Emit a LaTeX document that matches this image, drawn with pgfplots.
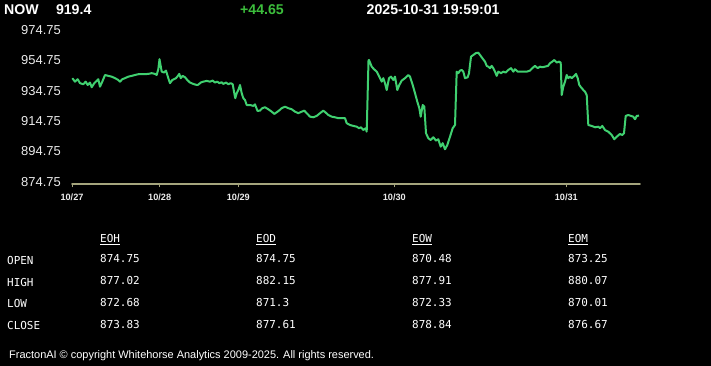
\documentclass[border=0pt]{standalone}
\usepackage{pgfplots}
\pgfplotsset{compat=1.18}
\usepackage{pgfplotstable}
\usepackage{fontspec}
\setmainfont{Liberation Sans}
\newfontfamily\monof{DejaVu Sans Mono}
\definecolor{linec}{RGB}{64,208,112}
\definecolor{grn}{RGB}{60,190,60}
\definecolor{axc}{RGB}{165,165,125}
\definecolor{lbl}{RGB}{235,235,235}
\pgfplotstableread{
x y
72.3 944.1
75 941.8
77.7 943.4
80 940.8
83.3 940.1
85.7 941.8
87.7 939.6
90 941.2
91.7 938.1
94.3 940.8
96.7 942.3
98.3 943.4
100 938.5
102.3 941.8
105 946.2
108.3 945.6
111.7 945.1
115 944.1
118.3 942.9
120 941.8
122.3 943.4
125 944.1
128.3 945.1
131.7 945.6
135 946.2
138.3 946.7
143.3 946.7
148.3 946.9
151.7 947.4
155 946.9
156.7 946.2
158.3 950.0
159.5 956.6
161.7 948.4
164 947.8
166 949.1
168.3 944.1
170 940.8
172.3 942.9
174 943.4
176 944.1
177.3 945.1
179.3 946.9
180.7 944.1
182.7 945.6
185 944.7
187.3 942.9
190 941.2
193.3 940.3
196.7 939.6
198.3 939.8
200.7 941.2
203.3 941.8
206.7 942.3
210 941.8
212.7 942.5
215 941.2
217.3 941.8
219.3 940.8
221.7 941.4
223.3 940.3
226 941.2
228.3 940.1
230.7 940.8
232.7 940.1
234 935.2
235.3 930.9
236.7 934.2
238.3 936.3
240 939.6
241.7 934.2
243.3 930.9
245 929.7
246.7 926.4
250 926.4
253.3 925.8
255 926.8
257.5 922.5
260 922.7
262.3 924.3
265 924.9
268.3 923.6
271.7 922.0
274.3 920.5
276.7 921.6
279 922.7
281.7 924.3
285 925.3
288.3 924.3
291.7 923.6
295 922.0
298.3 921.0
301.7 922.0
304.3 922.7
306.7 921.0
310 918.7
313.3 918.3
316.7 919.2
320 921.0
323.3 922.7
325.7 921.4
328.3 919.8
331.7 918.7
335 918.3
338.3 917.7
341.7 917.7
345 917.7
346.7 914.4
350 913.2
353.3 912.6
356.7 912.1
359 911.1
361 911.7
363.3 909.9
365.7 911.1
366.7 908.8
368.5 955.7
369 956.1
371.7 951.7
374 950.0
376.7 948.4
379.3 945.1
381.7 941.8
383.3 944.1
385 940.8
386.7 936.3
389 944.1
391 945.1
393.3 942.9
395 945.1
397.3 936.3
399.3 939.6
401.7 942.5
405 944.1
408.3 946.2
410 945.1
412.7 939.6
415 934.2
417.3 928.6
419.3 924.3
420.7 918.7
422.7 926.4
424.3 925.3
426 907.8
428.3 904.5
430.7 903.3
433.3 905.1
436 902.9
438.3 903.8
440.7 898.9
442.7 901.2
445 897.2
447.3 900.0
450 905.5
452.7 911.1
455 913.2
456.7 948.4
458.3 947.4
460 949.1
461.7 949.5
463.3 948.4
465 944.1
467.7 944.7
469 947.4
471 958.3
473.3 959.4
475.7 960.6
478.3 960.9
480 959.4
482.3 957.3
485 955.0
486.7 952.2
488.3 951.7
490 950.7
491.7 952.2
493.3 950.7
495 948.4
496.7 945.6
498.3 948.4
501 947.4
503.3 948.4
505.7 947.8
508.3 949.5
511 950.7
513.3 948.4
515 950.0
517.7 948.4
521.7 948.4
526.7 948.4
530 949.1
532.3 950.7
535 952.2
537.7 950.7
540 951.7
542.3 951.3
545 951.7
548 952.2
550 954.0
552.3 955.0
554.3 956.1
556.7 954.4
559 955.0
560.7 954.4
561.7 933.0
563.3 938.5
565 941.8
566.7 946.2
568.3 944.1
570 945.1
571.7 944.1
574.3 945.6
576 946.9
577.7 944.1
579.3 939.6
581 938.1
583.3 936.3
585 935.2
586.7 933.0
588.3 913.2
591.7 912.6
595 911.7
598.3 912.1
600 911.1
602.3 912.6
605 909.9
608.3 908.8
611.7 906.6
614.3 903.8
616.7 905.5
620 907.3
622.3 906.6
624 907.8
625.7 919.2
628.3 919.8
631 919.2
633.3 918.7
635 917.0
636.7 919.2
639 919.4
}\pricedata
\begin{document}
\begin{tikzpicture}
\fill[black] (0,0) rectangle (711bp,-366bp);
\begin{axis}[
  at={(72bp,-183.3bp)}, anchor=south west,
  scale only axis, width=568bp, height=151.6bp,
  xmin=72, xmax=640, ymin=874.75, ymax=974.75,
  clip=false,
  axis line style={draw=none},
  xtick pos=bottom, ytick pos=left, tick align=outside,
  major tick length=4bp,
  xtick style={draw=axc, line width=0.8bp},
  ytick style={draw=none},
  xtick={72,159.7,238.3,394.3,566.3},
  xticklabels={10/27,10/28,10/29,10/30,10/31},
  ytick={874.75,894.75,914.75,934.75,954.75,974.75},
  yticklabels={874.75,894.75,914.75,934.75,954.75,974.75},
  yticklabel style={anchor=east, inner sep=0pt, xshift=-7bp, text=lbl, font=\fontsize{13}{14}\selectfont},
  xticklabel style={anchor=base, inner sep=0pt, yshift=-13.5bp, text=lbl, font=\fontsize{9.2}{10}\selectfont\bfseries},
  typeset ticklabels with strut=false,
]
\addplot[linec, line width=2bp, line join=round, no marks] table[x=x,y=y] {\pricedata};
\end{axis}
\draw[axc, line width=1.8bp, line cap=round] (72bp,-184.2bp) -- (640bp,-184.2bp);
% header
\begin{scope}[every node/.style={anchor=base west, inner sep=0pt, font=\fontsize{14.2}{16}\selectfont\bfseries}]
\node[text=white] at (4bp,-14bp) {NOW};
\node[text=white] at (55.8bp,-14bp) {919.4};
\node[text=grn] at (240bp,-14bp) {+44.65};
\node[text=white] at (366.5bp,-14bp) {2025-10-31 19:59:01};
\end{scope}
% table
\begin{scope}[every node/.style={anchor=base west, inner sep=0pt, text=white, font=\monof\fontsize{11}{13}\selectfont}]
\node at (100bp,-242.7bp) {\underline{EOH}};
\node at (256bp,-242.7bp) {\underline{EOD}};
\node at (412bp,-242.7bp) {\underline{EOW}};
\node at (568bp,-242.7bp) {\underline{EOM}};
\node at (7bp,-264.5bp) {OPEN};
\node at (7bp,-286bp) {HIGH};
\node at (7bp,-307.5bp) {LOW};
\node at (7bp,-329.5bp) {CLOSE};
\node at (100bp,-262.7bp) {874.75};
\node at (256bp,-262.7bp) {874.75};
\node at (412bp,-262.7bp) {870.48};
\node at (568bp,-262.7bp) {873.25};
\node at (100bp,-284.3bp) {877.02};
\node at (256bp,-284.3bp) {882.15};
\node at (412bp,-284.3bp) {877.91};
\node at (568bp,-284.3bp) {880.07};
\node at (100bp,-306bp) {872.68};
\node at (256bp,-306bp) {871.3};
\node at (412bp,-306bp) {872.33};
\node at (568bp,-306bp) {870.01};
\node at (100bp,-328.3bp) {873.83};
\node at (256bp,-328.3bp) {877.61};
\node at (412bp,-328.3bp) {878.84};
\node at (568bp,-328.3bp) {876.67};
\end{scope}
\node[anchor=base west, inner sep=0pt, text=white, font=\fontsize{11}{13}\selectfont] at (9bp,-358.5bp) {FractonAI © copyright Whitehorse Analytics 2009-2025. All rights reserved.};
\end{tikzpicture}
\end{document}
